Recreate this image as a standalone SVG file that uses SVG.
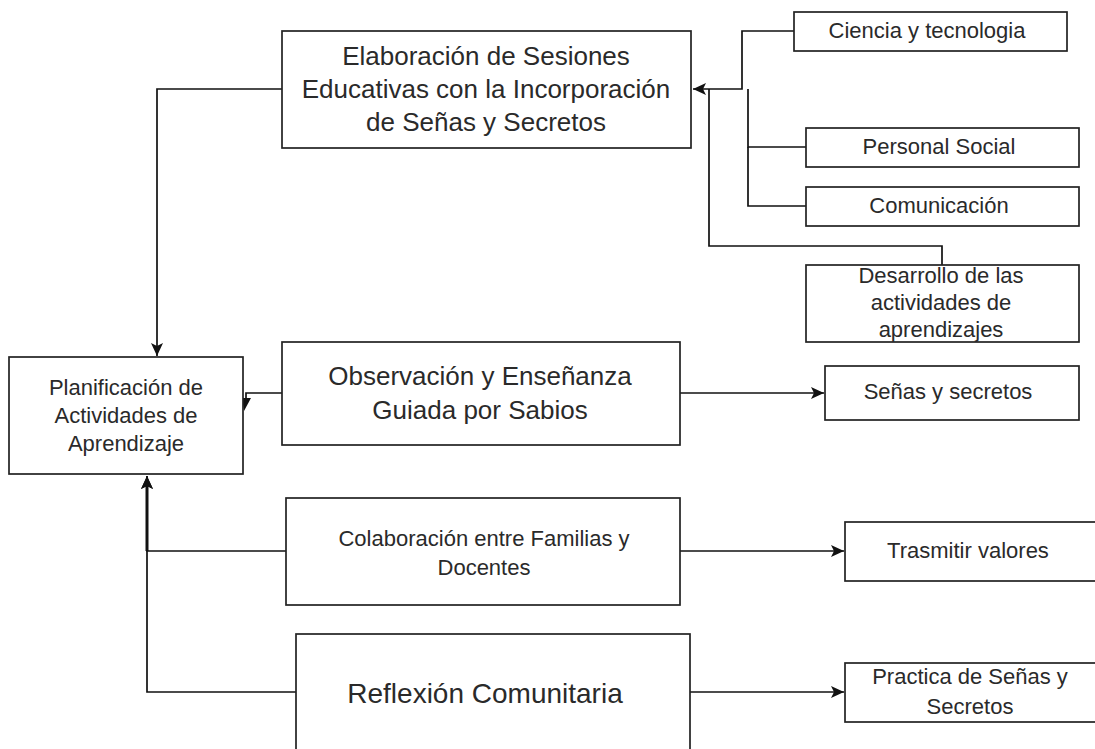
<svg xmlns="http://www.w3.org/2000/svg" width="1095" height="749" viewBox="0 0 1095 749">
<style>
.box{fill:#fff;stroke:#222;stroke-width:1.7}
.t{font-family:"Liberation Sans",Arial,sans-serif;fill:#2a2a2a;text-anchor:middle}
.s{font-size:22px}
.m{font-size:26px}
.l{font-size:28px}
.c{fill:none;stroke:#111;stroke-width:1.7}
</style>
<defs>
<marker id="a" markerUnits="userSpaceOnUse" markerWidth="16" markerHeight="16" viewBox="0 0 16 16" refX="14" refY="8" orient="auto">
<path d="M1,2 L14,8 L1,14 L4,8 z" fill="#111"/>
</marker>
</defs>
<rect width="1095" height="749" fill="#fff"/>
<g id="connectors">
<path class="c" d="M282,89 H157 V356" marker-end="url(#a)"/>
<path class="c" d="M794,31 H742 V89 H693" marker-end="url(#a)"/>
<path class="c" d="M806,147 H748 V89"/>
<path class="c" d="M806,206 H748 V147"/>
<path class="c" d="M942,265 V246 H709 V89"/>
<path class="c" d="M282,393 H246 V398"/>
<polygon points="242,398 251,398 244,411" fill="#111"/>
<path class="c" d="M680,393 H824" marker-end="url(#a)"/>
<path class="c" d="M286,551 H147 V476" marker-end="url(#a)"/>
<path class="c" d="M296,692 H147 V476" marker-end="url(#a)"/>
<path fill="none" stroke="#111" stroke-width="3" d="M147,551 V482"/>
<path class="c" d="M680,551 H844" marker-end="url(#a)"/>
<path class="c" d="M690,692 H844" marker-end="url(#a)"/>
</g>
<g id="elaboracion">
<rect class="box" x="282" y="31" width="409" height="117"/>
<text class="t m" x="486" y="65">Elaboración de Sesiones</text>
<text class="t m" x="486" y="98">Educativas con la Incorporación</text>
<text class="t m" x="486" y="131">de Señas y Secretos</text>
</g>
<g id="ciencia">
<rect class="box" x="794" y="12" width="273" height="39"/>
<text class="t s" x="927" y="38">Ciencia y tecnologia</text>
</g>
<g id="personal">
<rect class="box" x="806" y="128" width="273" height="39"/>
<text class="t s" x="939" y="154">Personal Social</text>
</g>
<g id="comunicacion">
<rect class="box" x="806" y="187" width="273" height="39"/>
<text class="t s" x="939" y="213">Comunicación</text>
</g>
<g id="desarrollo">
<rect class="box" x="806" y="265" width="273" height="77"/>
<text class="t s" x="941" y="283">Desarrollo de las</text>
<text class="t s" x="941" y="310">actividades de</text>
<text class="t s" x="941" y="337">aprendizajes</text>
</g>
<g id="planificacion">
<rect class="box" x="9" y="357" width="234" height="117"/>
<text class="t s" x="126" y="395">Planificación de</text>
<text class="t s" x="126" y="423">Actividades de</text>
<text class="t s" x="126" y="451">Aprendizaje</text>
</g>
<g id="observacion">
<rect class="box" x="282" y="342" width="398" height="103"/>
<text class="t m" x="480" y="385">Observación y Enseñanza</text>
<text class="t m" x="480" y="419">Guiada por Sabios</text>
</g>
<g id="senas">
<rect class="box" x="825" y="366" width="254" height="54"/>
<text class="t s" x="948" y="399">Señas y secretos</text>
</g>
<g id="colaboracion">
<rect class="box" x="286" y="498" width="394" height="107"/>
<text class="t s" x="484" y="546">Colaboración entre Familias y</text>
<text class="t s" x="484" y="575">Docentes</text>
</g>
<g id="trasmitir">
<rect class="box" x="845" y="522" width="260" height="59"/>
<text class="t s" x="968" y="558">Trasmitir valores</text>
</g>
<g id="reflexion">
<rect class="box" x="296" y="634" width="394" height="130"/>
<text class="t l" x="485" y="703">Reflexión Comunitaria</text>
</g>
<g id="practica">
<rect class="box" x="845" y="663" width="260" height="59"/>
<text class="t s" x="970" y="684">Practica de Señas y</text>
<text class="t s" x="970" y="714">Secretos</text>
</g>
</svg>
